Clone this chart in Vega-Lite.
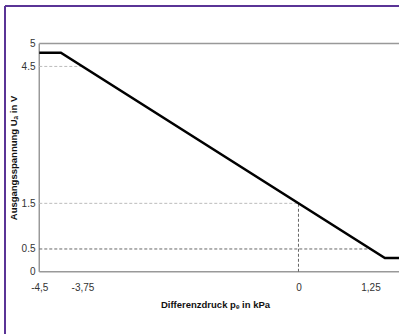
{
  "$schema": "https://vega.github.io/schema/vega-lite/v6.json",
  "width": 394,
  "height": 328,
  "autosize": {"type": "none"},
  "padding": {"left": 5, "top": 6, "right": 0, "bottom": 0},
  "background": "white",
  "config": {
    "view": {"stroke": null},
    "font": "Liberation Sans"
  },
  "datasets": {
    "curve": [
      {"x": -4.5, "y": 4.8},
      {"x": -4.125, "y": 4.8},
      {"x": 1.5, "y": 0.3},
      {"x": 1.8, "y": 0.3}
    ],
    "border": [
      {"x": -5.095, "x2": -5.095, "y": -1.363, "y2": 5.824},
      {"x": -5.095, "x2": 1.745, "y": 5.824, "y2": 5.824}
    ],
    "frame": [
      {"x": -4.5, "x2": -4.5, "y": 0, "y2": 5},
      {"x": -4.5, "x2": 1.8, "y": 0, "y2": 0},
      {"x": -4.5, "x2": 1.8, "y": 5, "y2": 5}
    ],
    "light": [
      {"x": -4.5, "x2": -3.75, "y": 4.5, "y2": 4.5},
      {"x": -4.5, "x2": 0, "y": 1.5, "y2": 1.5}
    ],
    "dark": [
      {"x": -4.5, "x2": 1.25, "y": 0.5, "y2": 0.5},
      {"x": 0, "x2": 0, "y": 0, "y2": 1.5}
    ]
  },
  "encoding": {
    "x": {
      "field": "x",
      "type": "quantitative",
      "scale": {"domain": [-5.095, 1.745], "nice": false, "zero": false},
      "axis": {
        "title": "Differenzdruck pₑ in kPa",
        "values": [-4.5, -3.75, 0, 1.25],
        "labelExpr": "replace(toString(datum.value), '.', ',')",
        "domain": false,
        "ticks": false,
        "grid": false,
        "offset": -62,
        "labelPadding": 10,
        "labelFontSize": 10,
        "labelColor": "#333",
        "labelFlush": false,
        "titleFontSize": 9.5,
        "titleFontWeight": "bold",
        "titleColor": "#111",
        "titleX": 210,
        "titlePadding": 7
      }
    },
    "y": {
      "field": "y",
      "type": "quantitative",
      "scale": {"domain": [-1.363, 5.824], "nice": false, "zero": false},
      "axis": {
        "title": "Ausgangsspannung Uₐ in V",
        "values": [0, 0.5, 1.5, 4.5, 5],
        "labelExpr": "toString(datum.value)",
        "domain": false,
        "ticks": false,
        "grid": false,
        "offset": -34,
        "labelPadding": 4,
        "labelFontSize": 10,
        "labelColor": "#333",
        "labelFlush": false,
        "titleFontSize": 9.5,
        "titleFontWeight": "bold",
        "titleColor": "#111",
        "titleY": 151.5,
        "titlePadding": 3
      }
    }
  },
  "layer": [
    {
      "data": {"name": "border"},
      "mark": {"type": "rule", "color": "#5a3496", "strokeWidth": 2},
      "encoding": {"x2": {"field": "x2"}, "y2": {"field": "y2"}}
    },
    {
      "data": {"name": "frame"},
      "mark": {"type": "rule", "color": "#999", "strokeWidth": 1.5, "clip": true},
      "encoding": {"x2": {"field": "x2"}, "y2": {"field": "y2"}}
    },
    {
      "data": {"name": "light"},
      "mark": {"type": "rule", "color": "#bbb", "strokeWidth": 1, "strokeDash": [3, 2]},
      "encoding": {"x2": {"field": "x2"}, "y2": {"field": "y2"}}
    },
    {
      "data": {"name": "dark"},
      "mark": {"type": "rule", "color": "#666", "strokeWidth": 1, "strokeDash": [3, 2]},
      "encoding": {"x2": {"field": "x2"}, "y2": {"field": "y2"}}
    },
    {
      "data": {"name": "curve"},
      "mark": {"type": "line", "color": "#000", "strokeWidth": 2.5, "clip": true},
      "encoding": {}
    }
  ]
}
